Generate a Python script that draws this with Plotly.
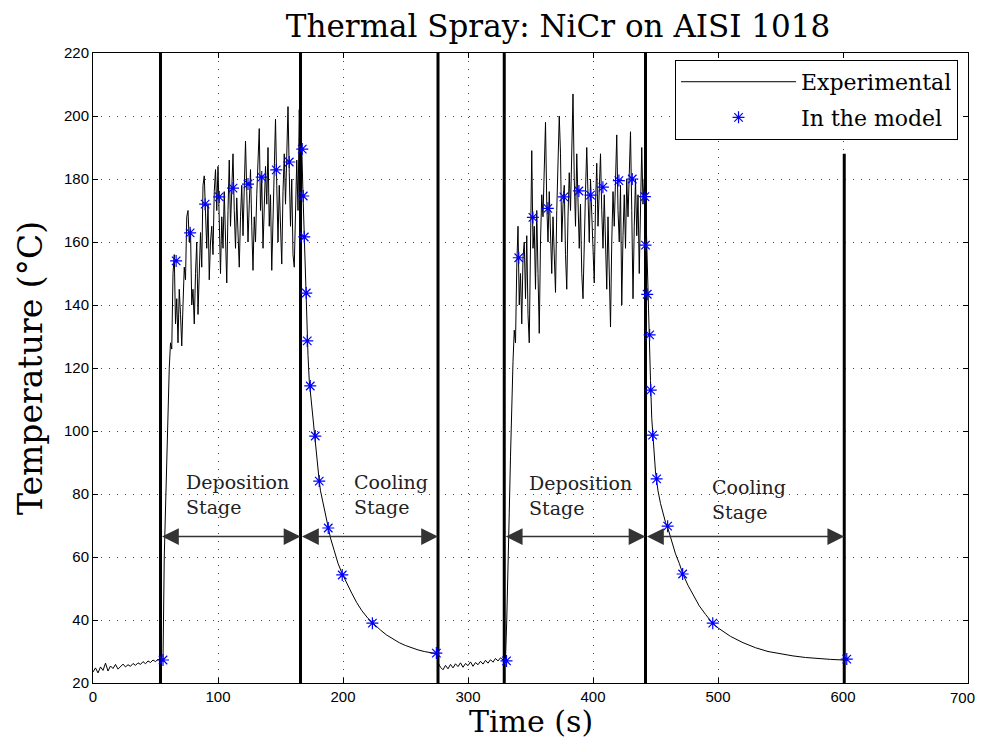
import plotly.graph_objects as go

# ---------------- data ----------------
# baseline before first deposition (sampled every 2 s)
base1_time = list(range(0, 56, 2))
base1_temp = [23.5, 24.8, 23.2, 25.1, 24.0, 26.3, 23.8, 25.4, 24.6, 25.9,
              24.4, 25.2, 26.0, 25.1, 25.8, 25.3, 26.2, 25.6, 26.4, 25.9,
              26.8, 26.1, 27.0, 26.5, 27.3, 26.8, 27.5, 27.2]

# first deposition stage (1 s sampling)
dep1_time = list(range(56, 168))
dep1_temp = [27, 60, 76, 93, 100, 120, 128, 126, 150, 156,
             134, 142, 128, 145, 137, 127, 140, 152, 148, 168,
             170, 160, 164, 140, 145, 134, 150, 160, 137, 155,
             163, 152, 178, 181, 170, 158, 172, 148, 160, 165,
             156, 176, 183, 170, 184, 162, 150, 168, 158, 176,
             160, 147, 170, 186, 165, 180, 188, 170, 158, 174,
             165, 152, 168, 178, 162, 182, 192, 176, 160, 172,
             183, 165, 151, 168, 160, 175, 186, 196, 170, 180,
             158, 168, 184, 172, 190, 165, 175, 151, 170, 186,
             199, 178, 160, 178, 166, 153, 176, 188, 172, 192,
             203, 182, 165, 180, 156, 152, 172, 186, 170, 202,
             184, 190]

# first cooling stage
cool1_time = [168, 169, 170, 171, 172, 173, 174, 175, 176, 177, 178, 179, 180, 181, 182,
              184, 186, 188, 190, 193, 196, 199, 203, 207, 211, 215,
              220, 225, 230, 235, 240, 245, 250, 255, 260, 265, 270, 275]
cool1_temp = [175, 162, 146, 133, 124, 116, 112, 107, 102, 99, 95, 91, 87, 84, 81,
              77, 73, 69.5, 66, 62, 58, 55, 51.5, 48.5, 45.5, 43,
              40.5, 38.5, 36.8, 35.2, 33.9, 32.8, 31.9, 31.1, 30.5, 30.0, 29.6, 29.3]

# baseline before second deposition
base2_time = list(range(276, 331, 2))
base2_temp = [26.5, 25.0, 24.2, 25.6, 24.5, 25.9, 24.8, 26.1, 25.2, 26.4,
              25.0, 26.2, 25.5, 26.7, 25.3, 26.5, 25.8, 26.9, 26.0, 27.2,
              26.3, 27.4, 26.6, 27.8, 27.0, 28.0, 27.3, 27.5]

# second deposition stage
dep2_time = list(range(331, 443))
dep2_temp = [40, 62, 74, 92, 110, 122, 132, 128, 152, 165,
             140, 150, 134, 155, 160, 142, 162, 137, 128, 170,
             189, 158, 165, 145, 170, 150, 131, 160, 175, 168,
             185, 198, 172, 160, 176, 166, 150, 168, 158, 144,
             170, 184, 200, 188, 160, 172, 178, 156, 145, 168,
             182, 170, 192, 207, 180, 165, 188, 175, 158, 172,
             150, 142, 165, 176, 190, 172, 160, 180, 168, 155,
             147, 172, 185, 165, 178, 188, 170, 158, 175, 160,
             145, 168, 150, 133, 160, 176, 165, 185, 194, 170,
             160, 178, 140, 162, 175, 158, 180, 168, 186, 195,
             170, 142, 165, 180, 162, 175, 150, 168, 190, 172,
             180, 174]

# second cooling stage
cool2_time = [443, 444, 445, 446, 447, 448, 449, 450, 451, 452,
              454, 456, 458, 460, 463, 466, 469, 472, 476, 480,
              485, 490, 495, 500, 510, 520, 530, 540, 550, 560,
              570, 580, 590, 600, 603]
cool2_temp = [158, 140, 128, 116, 104, 98, 92, 87, 84, 81,
              77, 74, 71, 69, 65, 61, 58, 54.5, 51, 48,
              44.5, 41.8, 39.3, 37.5, 34.8, 32.8, 31.2, 30.0, 29.2, 28.6,
              28.1, 27.7, 27.5, 27.3, 27.2]

# model points
model_time = [56, 66.5, 77.7, 89.7, 101, 112, 124, 135, 146.6, 157,
              167.4, 168.2, 169, 170.6, 171.4, 173.8, 177.8, 181, 188.2, 199.4,
              223.5, 274.7,
              330.8, 340.6, 351.9, 363.9, 376.7, 388.7, 398, 407.9, 420.7, 431.4,
              441.5, 442, 443.4, 445.3, 446.2, 447.7, 450.9, 459.7, 471.7, 495.8, 603]
model_temp = [27.3, 154, 162.9, 172, 174.3, 177.1, 178.4, 180.6, 182.9, 185.4,
              189.5, 174.6, 161.6, 143.8, 128.6, 114.3, 98.4, 84.1, 69.2, 54.3,
              39.0, 29.5,
              27.0, 155, 167.8, 170.7, 174.3, 176.2, 174.9, 177.4, 179.5, 180,
              174.4, 159, 143.4, 130.5, 113, 98.7, 84.8, 69.8, 54.6, 39, 27.6]

# stage boundaries (time) and the top of each boundary line
boundary_time = [54, 166, 276, 329, 442, 601]
boundary_top = [220, 220, 220, 220, 220, 188]
boundary_bottom = 20

# stage arrows (start boundary index, end boundary index) and level
arrow_spans = [(0, 1), (1, 2), (3, 4), (4, 5)]
arrow_level = 66.5

# stage labels
stage_labels = ["Deposition<br>Stage", "Cooling<br>Stage", "Deposition<br>Stage", "Cooling<br>Stage"]
stage_label_time = [73.0, 207.5, 347.0, 493.5]
stage_label_temp = [79.7, 79.7, 79.4, 78.2]

x_ticks = [0, 100, 200, 300, 400, 500, 600, 700]
x_tick_labels = ["0", "100", "200", "300", "400", "500", "600", "700"]
y_ticks = [20, 40, 60, 80, 100, 120, 140, 160, 180, 200, 220]

# ---------------- figure ----------------
exp_time = base1_time + dep1_time + cool1_time + base2_time + dep2_time + cool2_time
exp_temp = base1_temp + dep1_temp + cool1_temp + base2_temp + dep2_temp + cool2_temp

serif = "DejaVu Serif"
sans = "Liberation Sans"

fig = go.Figure()

# boundary lines
bx, by = [], []
for t, top in zip(boundary_time, boundary_top):
    bx += [t, t, None]
    by += [boundary_bottom, top, None]
fig.add_trace(go.Scatter(x=bx, y=by, mode="lines", line=dict(color="black", width=3),
                         showlegend=False, hoverinfo="skip"))

fig.add_trace(go.Scatter(x=exp_time, y=exp_temp, mode="lines", name="Experimental",
                         legendgroup="exp", line=dict(color="black", width=1)))
fig.add_trace(go.Scatter(x=model_time, y=model_temp, mode="markers", name="In the model",
                         legendgroup="mod",
                         marker=dict(symbol="asterisk-open", size=10, color="blue",
                                     line=dict(color="blue", width=1.2))))

for (a, b) in arrow_spans:
    fig.add_annotation(x=boundary_time[b], y=arrow_level, ax=boundary_time[a], ay=arrow_level,
                       xref="x", yref="y", axref="x", ayref="y", text="", showarrow=True,
                       arrowside="end+start", arrowhead=2, arrowsize=2.4, arrowwidth=1.4,
                       arrowcolor="#333333", standoff=0, startstandoff=0)

for lab, t, T in zip(stage_labels, stage_label_time, stage_label_temp):
    fig.add_annotation(x=t, y=T, xref="x", yref="y", text=lab, showarrow=False,
                       xanchor="left", yanchor="middle", align="left",
                       font=dict(family=serif, size=19, color="#222222"))

# axis titles placed as annotations next to the plot area
fig.add_annotation(x=0.5, y=0, xref="paper", yref="paper", text="Time (s)", showarrow=False,
                   xanchor="center", yanchor="middle", yshift=-38,
                   font=dict(family=serif, size=30, color="black"))
fig.add_annotation(x=0, y=0.5, xref="paper", yref="paper", text="Temperature (°C)",
                   showarrow=False, textangle=-90, xanchor="center", yanchor="middle",
                   xshift=-63, font=dict(family=serif, size=33, color="black"))

# the last x tick label sits at the page edge; draw it right-aligned so it stays whole
shown_tick_text = x_tick_labels[:-1] + [""]
fig.add_annotation(x=x_ticks[-1], y=0, xref="x", yref="paper", text=x_tick_labels[-1],
                   showarrow=False, xanchor="right", yanchor="middle", xshift=9, yshift=-14,
                   font=dict(family=sans, size=15, color="black"))

axis_common = dict(showline=True, linecolor="black", linewidth=1, mirror="allticks",
                   ticks="inside", ticklen=5, tickcolor="black", automargin=False,
                   showgrid=True, gridcolor="#444444", gridwidth=1, griddash="1px,7px",
                   zeroline=False, tickfont=dict(family=sans, size=15, color="black"))

fig.update_xaxes(range=[0, 700], tickvals=x_ticks, ticktext=shown_tick_text, **axis_common)
fig.update_yaxes(range=[20, 220], tickvals=y_ticks, **axis_common)

fig.update_layout(
    width=977, height=736,
    margin=dict(l=85, r=17, t=45, b=61, autoexpand=False),
    paper_bgcolor="white", plot_bgcolor="white",
    title=dict(text="Thermal Spray: NiCr on AISI 1018", x=0.563, xref="container",
               xanchor="center", y=0.9755, yref="container", yanchor="middle",
               font=dict(family=serif, size=31, color="black")),
    legend=dict(x=0.9886, y=0.989, xanchor="right", yanchor="top",
                bgcolor="white", bordercolor="black", borderwidth=1,
                font=dict(family=serif, size=22, color="black"),
                itemwidth=115, tracegroupgap=4),
    showlegend=True,
)

fig.write_html("out.html")
